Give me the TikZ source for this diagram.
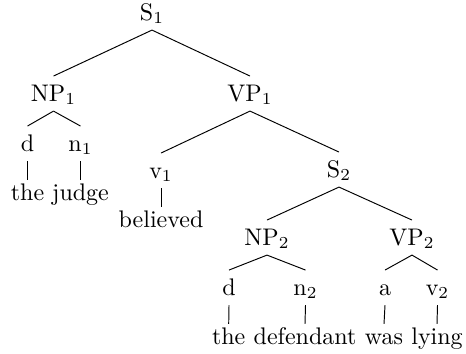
\documentclass[tikz,border=0pt]{standalone}
\begin{document}
\begin{tikzpicture}[x=0.41667pt, y=-0.41667pt,
  tn/.style={anchor=base, inner sep=3.2pt, text height=7pt, text depth=0.8pt},
  lf/.style={tn, text height=5pt},
  br/.style={line width=0.4pt}]
\useasboundingbox (0,0) rectangle (466,353);
\node[tn] (S1) at (152,20) {S$_1$};
\node[tn] (NP1) at (53.5,101) {NP$_1$};
\node[tn] (VP1) at (250,101) {VP$_1$};
\node[tn] (d1) at (27.5,151) {d};
\node[tn] (n1) at (80.5,151) {n$_1$};
\node[lf] (w1) at (27.5,200) {the};
\node[lf] (w2) at (80.5,200) {judge};
\node[tn] (v1) at (161,178) {v$_1$};
\node[lf] (w3) at (161,227) {believed};
\node[tn] (S2) at (339,177) {S$_2$};
\node[tn] (NP2) at (267,245) {NP$_2$};
\node[tn] (VP2) at (412,245) {VP$_2$};
\node[tn] (d2) at (229,295) {d};
\node[tn] (n2) at (305.5,295) {n$_2$};
\node[tn] (a) at (385,295) {a};
\node[tn] (v2) at (437.5,295) {v$_2$};
\node[lf] (w4) at (228.7,344) {the};
\node[lf] (w5) at (305,344) {defendant};
\node[lf] (w6) at (384,344) {was};
\node[lf] (w7) at (437,344) {lying};
\draw[br] (S1.south) -- (NP1.north);
\draw[br] (S1.south) -- (VP1.north);
\draw[br] (NP1.south) -- (d1.north);
\draw[br] (NP1.south) -- (n1.north);
\draw[br] (d1.south) -- (w1.north);
\draw[br] (n1.south) -- (w2.north);
\draw[br] (VP1.south) -- (v1.north);
\draw[br] (VP1.south) -- (S2.north);
\draw[br] (v1.south) -- (w3.north);
\draw[br] (S2.south) -- (NP2.north);
\draw[br] (S2.south) -- (VP2.north);
\draw[br] (NP2.south) -- (d2.north);
\draw[br] (NP2.south) -- (n2.north);
\draw[br] (VP2.south) -- (a.north);
\draw[br] (VP2.south) -- (v2.north);
\draw[br] (d2.south) -- (w4.north);
\draw[br] (n2.south) -- (w5.north);
\draw[br] (a.south) -- (w6.north);
\draw[br] (v2.south) -- (w7.north);
\end{tikzpicture}
\end{document}
